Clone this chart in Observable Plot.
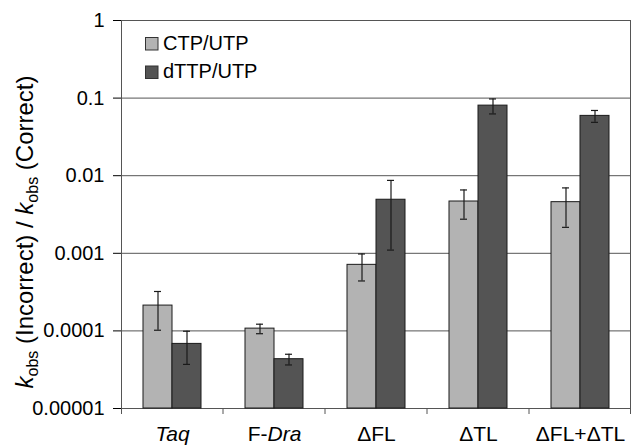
<!DOCTYPE html>
<html><head><meta charset="utf-8">
<script src="https://cdn.jsdelivr.net/npm/d3@7"></script>
<script src="https://cdn.jsdelivr.net/npm/@observablehq/plot@0.6"></script>
<style>
body{margin:0;background:#fff;}
#chart svg{font-family:"Liberation Sans",Arial,sans-serif;}
</style>
</head><body><div id="chart"></div>
<script>
const categories = ["Taq", "F-Dra", "ΔFL", "ΔTL", "ΔFL+ΔTL"];
// label styling: [text, italic]
const categoryLabelParts = [
  [["Taq", true]],
  [["F-", false], ["Dra", true]],
  [["ΔFL", false]],
  [["ΔTL", false]],
  [["ΔFL+ΔTL", false]]
];
const seriesNames = ["CTP/UTP", "dTTP/UTP"];
const ctpValues = [0.000212, 0.000107, 0.00071, 0.00465, 0.00456];
const ctpErrors = [0.00011, 0.000015, 0.00027, 0.0019, 0.0024];
const dttpValues = [0.000068, 0.0000432, 0.0049, 0.080, 0.059];
const dttpErrors = [0.000031, 0.0000068, 0.0038, 0.0175, 0.0103];
const yTicks = [0.00001, 0.0001, 0.001, 0.01, 0.1, 1];
const yTickLabels = ["0.00001", "0.0001", "0.001", "0.01", "0.1", "1"];
const colors = ["#b3b3b3", "#545454"];

const data = categories.flatMap((c, i) => [
  {category: c, series: seriesNames[0], value: ctpValues[i], err: ctpErrors[i]},
  {category: c, series: seriesNames[1], value: dttpValues[i], err: dttpErrors[i]}
]);

const ink = "#1a1a1a";
const grid = "#555555";

const chart = Plot.plot({
  width: 632, height: 448,
  marginLeft: 120, marginRight: 1, marginTop: 20, marginBottom: 40,
  style: {fontFamily: "'Liberation Sans', Arial, sans-serif", fontSize: "20px", color: "#000", background: "#fff", overflow: "visible"},
  fx: {domain: categories, padding: 0, label: null, tickSize: 0, tickPadding: 18},
  x: {domain: seriesNames, paddingInner: 0, paddingOuter: 0.72, axis: null},
  y: {type: "log", domain: [1e-5, 1], ticks: yTicks, tickFormat: d => yTickLabels[yTicks.indexOf(d)], tickSize: 8, tickPadding: 9, label: null},
  color: {domain: seriesNames, range: colors},
  marks: [
    Plot.ruleY(yTicks, {stroke: grid, strokeWidth: 1}),
    Plot.barY(data, {fx: "category", x: "series", y1: 1e-5, y2: "value", fill: "series", stroke: ink, strokeWidth: 1}),
    Plot.ruleX(data, {fx: "category", x: "series", y1: d => d.value - d.err, y2: d => d.value + d.err, stroke: ink, strokeWidth: 1.2}),
    Plot.tickY(data, {fx: "category", x: "series", y: d => d.value + d.err, insetLeft: 11, insetRight: 11, stroke: ink, strokeWidth: 1.2}),
    Plot.tickY(data, {fx: "category", x: "series", y: d => d.value - d.err, insetLeft: 11, insetRight: 11, stroke: ink, strokeWidth: 1.2})
  ]
});
document.getElementById("chart").appendChild(chart);

const svg = d3.select(chart.tagName.toLowerCase() === "svg" ? chart : chart.querySelector("svg"));
const fx = chart.scale("fx");
const y = chart.scale("y");
const yTop = y.apply(1), yBottom = y.apply(1e-5);
const left = fx.apply(categories[0]);
const right = fx.apply(categories[categories.length - 1]) + fx.bandwidth;

// frame lines
const deco = svg.append("g");
deco.append("line").attr("x1", left + 0.5).attr("x2", left + 0.5).attr("y1", yTop).attr("y2", yBottom).attr("stroke", grid);
deco.append("line").attr("x1", right - 0.5).attr("x2", right - 0.5).attr("y1", yTop).attr("y2", yBottom).attr("stroke", grid);
// category boundary ticks
const bounds = categories.map(c => fx.apply(c)).concat([right]);
bounds.forEach(b => {
  const xx = Math.min(Math.max(b, left + 0.5), right - 0.5);
  deco.append("line").attr("x1", xx).attr("x2", xx).attr("y1", yBottom).attr("y2", yBottom + 6).attr("stroke", grid);
});

// italic parts of category labels
svg.selectAll("text").each(function() {
  const t = this.textContent;
  const idx = categories.indexOf(t);
  if (idx >= 0 && this.childElementCount === 0) {
    const sel = d3.select(this);
    sel.text(null).attr("font-size", 21);
    categoryLabelParts[idx].forEach(([s, it]) => {
      sel.append("tspan").text(s).attr("font-style", it ? "italic" : "normal");
    });
  }
});

// legend
const legend = svg.append("g").attr("font-size", 20).attr("text-anchor", "start");
seriesNames.forEach((s, i) => {
  legend.append("rect").attr("x", 145.5).attr("y", 37.5 + i * 28.5).attr("width", 12.5).attr("height", 12.5)
    .attr("fill", colors[i]).attr("stroke", "#333");
  legend.append("text").attr("x", 163).attr("y", 50 + i * 27.5).attr("fill", "#000").attr("text-anchor", "start").text(s);
});

// y axis title
const title = svg.append("text").attr("transform", `translate(33,${(yTop + yBottom) / 2 + 18}) rotate(-90)`)
  .attr("text-anchor", "middle").attr("font-size", 24).attr("fill", "#000");
title.append("tspan").attr("font-style", "italic").text("k");
title.append("tspan").attr("font-size", 16).attr("dy", 5).text("obs");
title.append("tspan").attr("dy", -5).text(" (Incorrect) / ");
title.append("tspan").attr("font-style", "italic").text("k");
title.append("tspan").attr("font-size", 16).attr("dy", 5).text("obs");
title.append("tspan").attr("dy", -5).text(" (Correct)");
</script>
</body></html>
